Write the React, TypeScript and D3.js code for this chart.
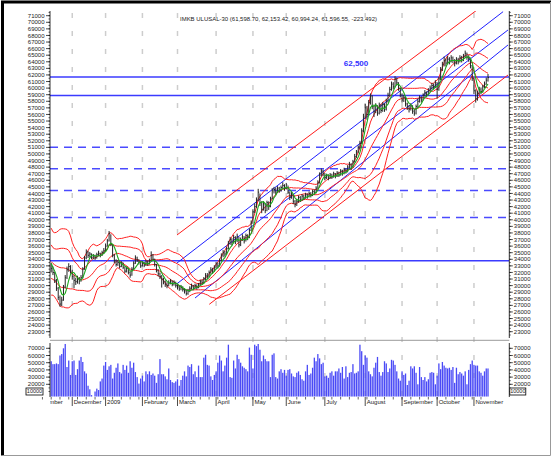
import React from 'react';
import * as d3 from 'd3';

// IMKB Ulusal-30 daily bars, Nov 2008 - Nov 2009 (values in thousands)
const warmupCloses = [37.5, 35.0, 33.0, 30.8, 29.5, 28.6, 29.8, 32.6, 33.6, 35.6, 37.2, 37.8, 36.0, 34.8, 34.0, 35.2, 33.6, 33.0, 32.6];

const closes = [
  32.6, 32.0, 30.8, 29.6, 28.2, 27.2, 27.8, 29.8, 31.2, 32.4, 32.9, 32.2,
  31.4, 30.8, 30.6, 31.0, 30.7, 31.2, 32.5, 34.2, 35.0, 34.6, 34.8, 34.3, 34.5, 34.2, 34.7, 34.9, 34.6, 35.0, 35.3,
  36.0, 36.8, 37.9, 36.2, 34.6, 33.8, 33.2, 33.5, 32.9, 33.4, 32.8, 32.2, 32.6, 32.0, 31.6, 32.5, 33.4, 34.2, 33.9, 33.6, 33.0,
  33.4, 33.1, 33.6, 33.3, 33.8, 34.6, 34.0, 33.2, 32.4, 31.8, 31.4, 31.0, 30.6, 30.2, 30.0, 30.4, 30.7, 30.2, 30.5, 30.0,
  29.8, 29.5, 29.7, 29.4, 29.2, 28.8, 29.2, 29.6, 29.9, 29.6, 30.0, 29.7, 30.1, 30.6, 30.4, 31.0, 31.5, 31.4, 32.0, 32.4, 32.2, 32.8,
  33.3, 33.0, 33.8, 34.6, 35.0, 34.8, 35.6, 36.4, 37.0, 36.6, 37.3, 36.8, 37.5, 36.2, 37.0, 37.4, 36.8, 37.6, 37.3, 38.4, 39.5,
  41.2, 42.0, 43.0, 44.2, 42.6, 41.6, 42.4, 41.4, 42.6, 42.0, 43.2, 44.4, 44.6, 44.2, 44.8, 44.5, 44.9, 45.2, 44.8,
  45.3, 44.2, 43.4, 43.8, 42.8, 42.3, 42.8, 43.4, 43.0, 43.6, 43.3, 43.8, 43.5, 44.0, 43.7, 44.3, 44.1, 44.8, 45.6, 46.8, 47.4, 47.0,
  46.4, 46.7, 46.3, 46.8, 46.5, 47.0, 46.6, 47.1, 46.8, 47.4, 47.0, 47.6, 47.3, 48.0, 48.4, 48.0, 48.8, 49.6, 50.3, 50.9, 51.6, 53.5, 55.6,
  57.0, 56.0, 57.8, 58.8, 57.2, 56.4, 57.3, 56.2, 57.4, 56.6, 57.5, 56.8, 58.0, 58.9, 59.8, 60.6, 60.2, 61.4, 60.8, 60.0, 59.0,
  58.2, 58.6, 57.6, 57.2, 56.8, 57.3, 56.5, 56.2, 57.2, 58.0, 58.5, 58.2, 58.9, 59.3, 59.0, 59.6, 60.0, 60.4, 60.2, 60.8,
  59.8, 61.4, 62.8, 63.6, 64.2, 63.8, 64.4, 64.0, 64.6, 64.2, 63.8, 64.3, 64.0, 64.6, 64.3, 64.8, 65.3, 64.7, 64.5, 63.4, 61.5,
  59.6, 58.4, 59.2, 59.8, 59.5, 60.2, 60.6, 61.2, 61.6,
];

const highs = [
  33.4, 32.9, 32.1, 31.0, 29.8, 28.5, 28.3, 30.1, 31.6, 32.9, 33.4, 33.1,
  32.4, 31.6, 31.2, 31.5, 31.3, 31.6, 32.8, 34.5, 35.5, 35.3, 35.1, 34.9, 34.8, 34.7, 35.0, 35.3, 35.0, 35.3, 35.7,
  36.4, 37.1, 38.3, 37.8, 36.3, 34.8, 34.0, 33.9, 33.6, 33.7, 33.5, 32.9, 32.9, 32.7, 32.2, 32.8, 33.7, 34.6, 34.4, 34.0, 33.7,
  33.7, 33.6, 33.9, 33.8, 34.1, 35.2, 34.8, 34.1, 33.3, 32.5, 32.0, 31.6, 31.2, 30.8, 30.5, 30.8, 31.0, 30.8, 30.8, 30.6,
  30.2, 30.0, 30.1, 29.9, 29.6, 29.4, 29.5, 29.9, 30.3, 30.1, 30.3, 30.2, 30.4, 30.9, 30.9, 31.3, 31.9, 31.9, 32.3, 32.8, 32.7, 33.1,
  33.6, 33.5, 34.1, 34.9, 35.4, 35.3, 35.9, 36.8, 37.4, 37.2, 37.7, 37.5, 37.9, 37.4, 37.3, 37.8, 37.5, 37.9, 37.8, 38.7, 39.9,
  41.6, 42.5, 43.4, 44.7, 44.0, 42.8, 42.8, 42.5, 42.9, 42.8, 43.5, 44.8, 45.0, 44.9, 45.1, 45.0, 45.2, 45.7, 45.4,
  45.6, 45.2, 44.3, 44.2, 43.9, 43.0, 43.2, 43.7, 43.6, 43.9, 43.8, 44.1, 44.0, 44.3, 44.2, 44.6, 44.6, 45.1, 46.0, 47.2, 47.8, 47.6,
  47.1, 47.0, 46.9, 47.1, 47.0, 47.3, 47.1, 47.4, 47.3, 47.7, 47.6, 47.9, 47.8, 48.3, 48.8, 48.6, 49.1, 50.0, 50.6, 51.3, 52.0, 53.9, 56.1,
  57.6, 57.3, 58.2, 59.2, 58.9, 57.5, 57.7, 57.4, 57.8, 57.6, 57.9, 57.7, 58.4, 59.3, 60.2, 61.0, 60.9, 61.8, 61.6, 60.9, 60.1,
  59.2, 59.0, 58.7, 57.8, 57.4, 57.7, 57.4, 56.8, 57.5, 58.4, 58.9, 58.7, 59.2, 59.7, 59.5, 60.0, 60.4, 60.8, 60.7, 61.2,
  60.9, 61.7, 63.2, 64.0, 64.8, 64.5, 64.9, 64.7, 65.0, 64.8, 64.4, 64.7, 64.6, 65.0, 64.9, 65.2, 65.7, 65.4, 65.0, 64.6, 63.5,
  61.6, 59.8, 59.6, 60.2, 60.1, 60.5, 61.0, 61.6, 62.15,
];

const lows = [
  32.0, 31.6, 30.4, 29.2, 27.8, 26.8, 26.9, 27.7, 29.6, 31.0, 32.1, 31.8,
  30.9, 29.6, 30.1, 30.3, 30.2, 30.6, 31.1, 32.4, 34.0, 34.2, 34.3, 34.0, 34.0, 33.9, 34.1, 34.5, 34.3, 34.5, 34.8,
  35.2, 35.9, 36.7, 36.0, 34.3, 33.4, 32.9, 33.0, 32.6, 32.8, 32.5, 31.9, 32.0, 31.7, 31.2, 31.5, 32.4, 33.3, 33.6, 33.2, 32.7,
  32.9, 32.8, 33.0, 33.0, 33.2, 33.7, 33.7, 32.9, 32.0, 31.4, 31.0, 29.7, 30.2, 29.8, 29.6, 29.9, 30.2, 29.9, 30.0, 29.7,
  29.4, 29.2, 29.3, 29.1, 28.8, 28.5, 28.6, 29.0, 29.4, 29.3, 29.5, 29.4, 29.6, 30.0, 30.1, 30.3, 30.8, 31.0, 31.3, 31.8, 31.8, 32.1,
  32.7, 32.6, 32.9, 33.7, 34.3, 34.4, 34.7, 35.5, 36.2, 36.1, 36.4, 36.3, 36.6, 35.8, 36.0, 36.8, 36.4, 36.7, 36.9, 37.2, 38.3,
  39.4, 41.0, 41.8, 42.8, 42.1, 41.0, 41.4, 41.0, 41.3, 41.5, 41.9, 43.1, 44.0, 43.8, 44.1, 44.1, 44.3, 44.7, 44.4,
  44.6, 43.9, 43.0, 43.2, 42.4, 41.9, 42.1, 42.6, 42.7, 42.9, 43.0, 43.2, 43.2, 43.4, 43.4, 43.6, 43.8, 44.0, 44.7, 45.5, 46.6, 46.6,
  46.0, 46.2, 46.0, 46.2, 46.2, 46.4, 46.3, 46.5, 46.5, 46.7, 46.7, 46.9, 47.0, 47.2, 47.8, 47.6, 47.9, 48.7, 49.4, 50.1, 50.7, 51.5, 53.3,
  55.4, 55.2, 55.8, 57.5, 56.8, 55.6, 56.2, 55.8, 56.0, 56.2, 56.4, 56.4, 56.6, 57.8, 58.7, 59.6, 59.8, 60.1, 60.4, 59.6, 58.6,
  57.8, 57.9, 57.2, 56.7, 56.3, 56.6, 56.1, 55.8, 56.0, 57.0, 57.8, 57.8, 58.1, 58.7, 58.6, 58.9, 59.4, 59.8, 59.8, 60.0,
  58.4, 59.6, 61.2, 62.6, 63.3, 63.3, 63.6, 63.6, 63.9, 63.8, 63.3, 63.6, 63.6, 63.9, 63.9, 64.1, 64.6, 64.3, 64.0, 63.0, 61.1,
  59.1, 57.8, 58.1, 59.0, 59.1, 59.3, 60.0, 60.5, 60.99,
];

// volume, thousands
const volumes = [
  52, 48, 48, 49, 48, 60, 62, 70, 76,
  44, 53, 33, 52, 53, 33, 41, 53, 58, 51, 38, 35,
  18, 13, 5, 3, 10, 14, 12, 24,
  28, 46, 51, 40, 45, 47, 28, 36, 43, 49, 37, 35,
  47, 40, 46, 36, 52, 43, 50, 37, 30, 21, 28, 32,
  24, 38, 34, 38, 33, 35, 32, 22, 34, 55, 34, 34,
  31, 27, 42, 26, 23, 22, 24, 27, 18, 26, 32, 38,
  31, 46, 44, 48, 34, 38, 30, 46, 30, 30, 57, 61,
  47, 46, 31, 26, 33, 38, 50, 60, 53, 38, 46, 57,
  75, 30, 29, 53, 42, 61, 55, 50, 45, 43, 41, 38,
  71, 61, 42, 75, 73, 76, 68, 52, 60, 55, 52, 52,
  30, 61, 63, 30, 28, 38,
  41, 36, 40, 32, 40, 41, 35, 31, 30,
  36, 38, 33, 27, 25, 38, 47, 33, 35,
  43, 57, 52, 62, 56, 48, 50, 31, 32,
  29, 36, 38, 32, 38, 38, 42, 36, 44, 28,
  45, 30, 36, 37, 48, 35, 36, 38, 75, 66,
  47, 60, 57, 38, 34, 31, 43, 50, 58, 37,
  32, 37, 52, 49, 37, 42, 54, 53, 47, 38,
  28, 25, 38, 33, 35, 19, 25, 45, 42,
  45, 36, 20, 44, 30, 26, 30, 24, 27,
  36, 37, 36, 20, 32, 49, 41, 51, 46,
  43, 42, 43, 40, 44, 22, 43, 34, 37, 35,
  32, 38, 20, 40, 48, 53, 47, 46, 46,
  38, 36, 32, 38, 42, 42,
];

const monthLabels = ['November', 'December', '2009', 'February', 'March', 'April', 'May', 'June', 'July', 'August', 'September', 'October', 'November'];
const monthStarts = [-10, 12, 31, 52, 72, 94, 115, 134, 156, 179, 200, 220, 241];

const priceTicks = d3.range(23, 72);
const volumeTicks = [20, 30, 40, 50, 60, 70];
const lastVolumeLabel = '10000';

const solidLevels = [61.69, 58.89, 33.78];
const fibLevels = [51.03, 47.735, 44.44, 40.365];

// trend channels: [startIndex, startValue, endIndex, endValue]
const blueChannel = [
  [71.5, 33.39, 257.6, 71.61],
  [71.5, 30.25, 260.4, 68.83],
  [82, 28.12, 260.4, 66.55],
];
const redChannel = [
  [71.7, 37.69, 260.4, 75.4],
  [90.1, 27.16, 260.4, 61.99],
];

const title = 'IMKB ULUSAL-30 (61,598.70, 62,153.42, 60,994.24, 61,596.55, -223.492)';
const highlight = '62,500';

const FONT = 'Liberation Sans, Arial, sans-serif';

const App = () => {
  const n = Math.min(closes.length, highs.length, lows.length);
  const x = d3.scaleLinear().domain([0, 249]).range([51.2, 488]);
  const y = d3.scaleLinear().domain([23, 71]).range([331.7, 15.7]);
  const yv = d3.scaleLinear().domain([10, 70]).range([391.5, 348.3]);
  const volFloor = 3;

  const left = 50;
  const right = 509.3;
  const top = 11;
  const priceBottom = 338;

  // 20-day Bollinger bands (1 and 2 sigma) and 5-day average
  const all = warmupCloses.concat(closes.slice(0, n));
  const w = warmupCloses.length;
  const bands = d3.range(n).map((i) => {
    const win = all.slice(i + w - 19, i + w + 1);
    const m = d3.mean(win) as number;
    const s = Math.sqrt(d3.mean(win, (v) => (v - m) * (v - m)) as number);
    const fast = d3.mean(all.slice(i + w - 4, i + w + 1)) as number;
    return { i, m, s, fast };
  });

  const line = d3.line<[number, number]>().x((d) => x(d[0])).y((d) => y(d[1]));
  const bandPath = (k: number) => line(bands.map((b) => [b.i, b.m + k * b.s]));
  const maPath = line(bands.map((b) => [b.i, b.fast]));

  const minorTicks = d3.range(22.5, 71.6, 0.5);
  const volMinor = d3.range(10, 71, 5);

  return (
    <svg width={553} height={458} style={{ position: 'absolute', left: 0, top: 0, background: '#fff' }} fontFamily={FONT}>
      <defs>
        <clipPath id="plot">
          <rect x={left} y={top} width={right - left} height={priceBottom - top} />
        </clipPath>
        <clipPath id="xlab">
          <rect x={left} y={395} width={right - left} height={15} />
        </clipPath>
      </defs>

      {/* frame */}
      <path d="M2.5,455.5 V2 H551" fill="none" stroke="#000" strokeWidth={3} />
      <path d="M2.5,455.5 H550.5 V2" fill="none" stroke="#999" strokeWidth={1} />

      {/* month grid lines */}
      {monthStarts.slice(1).map((m, k) => (
        <line key={'g' + k} x1={x(m)} x2={x(m)} y1={13} y2={398} stroke="#cdcdcd" strokeWidth={1.5} strokeDasharray="5 13" />
      ))}

      <g clipPath="url(#plot)">
        {solidLevels.map((v, k) => (
          <line key={'s' + k} x1={left} x2={right} y1={y(v)} y2={y(v)} stroke="#3b3bff" strokeWidth={1.5} />
        ))}
        {fibLevels.map((v, k) => (
          <line key={'f' + k} x1={left} x2={right} y1={y(v)} y2={y(v)} stroke="#4a4aff" strokeWidth={1.5} strokeDasharray="8 6" />
        ))}
        {blueChannel.map((c, k) => (
          <line key={'b' + k} x1={x(c[0])} y1={y(c[1])} x2={x(c[2])} y2={y(c[3])} stroke="#1f1fff" strokeWidth={1} />
        ))}
        {redChannel.map((c, k) => (
          <line key={'r' + k} x1={x(c[0])} y1={y(c[1])} x2={x(c[2])} y2={y(c[3])} stroke="#ff1a1a" strokeWidth={1} />
        ))}
        {[2, 1, 0, -1, -2].map((k) => (
          <path key={'bb' + k} d={bandPath(k) || ''} fill="none" stroke="#ff2020" strokeWidth={1} />
        ))}
        {d3.range(n).map((i) => (
          <g key={'c' + i} stroke="#262626" strokeWidth={1}>
            <line x1={x(i)} x2={x(i)} y1={y(highs[i])} y2={y(lows[i])} />
            <line x1={x(i)} x2={x(i) + 1} y1={y(closes[i])} y2={y(closes[i])} />
          </g>
        ))}
        <path d={maPath || ''} fill="none" stroke="#1ca81c" strokeWidth={1.1} />
      </g>

      <text x={356} y={66} textAnchor="middle" fontSize={8} fontWeight="bold" fill="#3333ff">{highlight}</text>
      <text x={180} y={21} fontSize={6} fill="#222" textLength={197} lengthAdjust="spacingAndGlyphs">{title}</text>

      {/* price axes */}
      <line x1={left} x2={left} y1={top} y2={priceBottom} stroke="#000" strokeWidth={0.8} />
      <line x1={right} x2={right} y1={top} y2={priceBottom} stroke="#000" strokeWidth={0.8} />
      {minorTicks.map((t, k) => (
        <g key={'mt' + k} stroke="#000" strokeWidth={0.6}>
          <line x1={left - 1.5} x2={left} y1={y(t)} y2={y(t)} />
          <line x1={right} x2={right + 1.5} y1={y(t)} y2={y(t)} />
        </g>
      ))}
      {priceTicks.map((t) => (
        <g key={'pt' + t}>
          <line x1={left - 4} x2={left} y1={y(t)} y2={y(t)} stroke="#000" strokeWidth={0.7} />
          <line x1={right} x2={right + 3.5} y1={y(t)} y2={y(t)} stroke="#000" strokeWidth={0.7} />
          <text x={left - 5.5} y={y(t)} dy="0.35em" textAnchor="end" fontSize={6} fill="#222">{t * 1000}</text>
          <text x={right + 4.5} y={y(t)} dy="0.35em" fontSize={6} fill="#222">{t * 1000}</text>
        </g>
      ))}

      {/* volume panel */}
      <line x1={left} x2={right} y1={340.3} y2={340.3} stroke="#9a9a9a" strokeWidth={1} />
      {d3.range(Math.min(volumes.length, n)).map((i) => (
        <rect key={'v' + i} x={x(i) - 0.65} width={1.3} y={yv(volumes[i])} height={yv(volFloor) - yv(volumes[i])} fill="#4a4af6" />
      ))}
      <line x1={left} x2={left} y1={343} y2={397} stroke="#000" strokeWidth={0.8} />
      <line x1={right} x2={right} y1={343} y2={397} stroke="#000" strokeWidth={0.8} />
      {volMinor.map((t) => (
        <g key={'vm' + t} stroke="#000" strokeWidth={0.6}>
          <line x1={left - 1.5} x2={left} y1={yv(t)} y2={yv(t)} />
          <line x1={right} x2={right + 1.5} y1={yv(t)} y2={yv(t)} />
        </g>
      ))}
      {volumeTicks.map((t) => (
        <g key={'vt' + t}>
          <line x1={left - 4} x2={left} y1={yv(t)} y2={yv(t)} stroke="#000" strokeWidth={0.7} />
          <line x1={right} x2={right + 3.5} y1={yv(t)} y2={yv(t)} stroke="#000" strokeWidth={0.7} />
          <text x={left - 5.5} y={yv(t)} dy="0.35em" textAnchor="end" fontSize={6} fill="#222">{t * 1000}</text>
          <text x={right + 4.5} y={yv(t)} dy="0.35em" fontSize={6} fill="#222">{t * 1000}</text>
        </g>
      ))}
      <rect x={26} y={yv(10) - 3.5} width={17} height={7} fill="#fff" stroke="#000" strokeWidth={0.8} />
      <text x={34.5} y={yv(10)} dy="0.35em" textAnchor="middle" fontSize={5.5} fill="#222">{lastVolumeLabel}</text>
      <rect x={right + 0.5} y={yv(10) - 3.5} width={16} height={7} fill="#fff" stroke="#000" strokeWidth={0.8} />
      <text x={right + 8.5} y={yv(10)} dy="0.35em" textAnchor="middle" fontSize={5.5} fill="#222">{lastVolumeLabel}</text>

      {/* time axis */}
      {d3.range(-5, 250, 5).map((i) => (
        <line key={'wt' + i} x1={x(i)} x2={x(i)} y1={397} y2={399.5} stroke="#000" strokeWidth={0.6} />
      ))}
      <g clipPath="url(#xlab)">
        {monthStarts.map((m, k) => (
          <g key={'ml' + k}>
            <line x1={x(m)} x2={x(m)} y1={397} y2={406} stroke="#000" strokeWidth={0.7} />
            <text x={x(m) + 1.5} y={404} fontSize={6} fill="#222">{monthLabels[k]}</text>
          </g>
        ))}
      </g>
    </svg>
  );
};

export default App;
